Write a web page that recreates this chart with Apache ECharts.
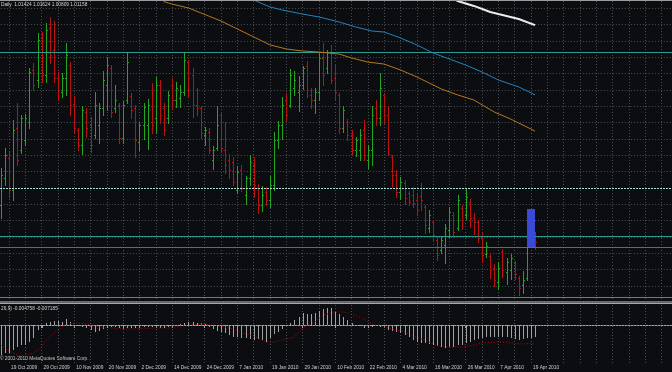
<!DOCTYPE html>
<html><head><meta charset="utf-8">
<script src="https://cdn.jsdelivr.net/npm/echarts@6/dist/echarts.min.js"></script>
<style>html,body{margin:0;padding:0;background:#0b0d10;}#c{width:672px;height:372px;}</style>
</head><body><div id="c"></div>
<script>
// ---- categories (trading days) ----
const dates = [
'15 Oct 2009','16 Oct 2009','19 Oct 2009','20 Oct 2009','21 Oct 2009','22 Oct 2009','23 Oct 2009','26 Oct 2009','27 Oct 2009','28 Oct 2009','29 Oct 2009','30 Oct 2009',
'2 Nov 2009','3 Nov 2009','4 Nov 2009','5 Nov 2009','6 Nov 2009','9 Nov 2009','10 Nov 2009','11 Nov 2009','12 Nov 2009','13 Nov 2009','16 Nov 2009','17 Nov 2009','18 Nov 2009','19 Nov 2009','20 Nov 2009','23 Nov 2009','24 Nov 2009','25 Nov 2009','26 Nov 2009','27 Nov 2009','30 Nov 2009',
'1 Dec 2009','2 Dec 2009','3 Dec 2009','4 Dec 2009','7 Dec 2009','8 Dec 2009','9 Dec 2009','10 Dec 2009','11 Dec 2009','14 Dec 2009','15 Dec 2009','16 Dec 2009','17 Dec 2009','18 Dec 2009','21 Dec 2009','22 Dec 2009','23 Dec 2009','24 Dec 2009','28 Dec 2009','29 Dec 2009','30 Dec 2009','31 Dec 2009',
'4 Jan 2010','5 Jan 2010','6 Jan 2010','7 Jan 2010','8 Jan 2010','11 Jan 2010','12 Jan 2010','13 Jan 2010','14 Jan 2010','15 Jan 2010','18 Jan 2010','19 Jan 2010','20 Jan 2010','21 Jan 2010','22 Jan 2010','25 Jan 2010','26 Jan 2010','27 Jan 2010','28 Jan 2010','29 Jan 2010',
'1 Feb 2010','2 Feb 2010','3 Feb 2010','4 Feb 2010','5 Feb 2010','8 Feb 2010','9 Feb 2010','10 Feb 2010','11 Feb 2010','12 Feb 2010','15 Feb 2010','16 Feb 2010','17 Feb 2010','18 Feb 2010','19 Feb 2010','22 Feb 2010','23 Feb 2010','24 Feb 2010','25 Feb 2010','26 Feb 2010',
'1 Mar 2010','2 Mar 2010','3 Mar 2010','4 Mar 2010','5 Mar 2010','8 Mar 2010','9 Mar 2010','10 Mar 2010','11 Mar 2010','12 Mar 2010','15 Mar 2010','16 Mar 2010','17 Mar 2010','18 Mar 2010','19 Mar 2010','22 Mar 2010','23 Mar 2010','24 Mar 2010','25 Mar 2010','26 Mar 2010','29 Mar 2010','30 Mar 2010','31 Mar 2010',
'1 Apr 2010','2 Apr 2010','5 Apr 2010','6 Apr 2010','7 Apr 2010','8 Apr 2010','9 Apr 2010','12 Apr 2010','13 Apr 2010','14 Apr 2010','15 Apr 2010','16 Apr 2010','19 Apr 2010','20 Apr 2010'];
const futureSlots = 34;

// ---- OHLC ----
const opens = [1.0317,1.0449,1.0547,1.0390,1.0694,1.0586,1.0635,1.0723,1.0978,1.0929,1.1135,1.0954,1.1184,1.1076,1.0939,1.0870,1.0939,1.1003,1.0811,1.0684,
1.0611,1.0772,1.0709,1.0660,1.0709,1.0792,1.0905,1.0988,1.0792,1.0807,1.0645,1.0831,1.0851,1.0792,1.0625,1.0709,1.0709,1.0880,1.0743,1.0905,
1.0792,1.0743,1.0905,1.0831,1.0841,1.0870,1.1017,1.0954,1.0807,1.0792,1.0660,1.0674,1.0537,1.0596,1.0758,1.0586,1.0537,1.0527,1.0390,1.0488,
1.0366,1.0449,1.0513,1.0400,1.0317,1.0380,1.0341,1.0415,1.0635,1.0709,1.0831,1.0807,1.0890,1.0870,1.0905,1.0998,1.0856,1.0831,1.0870,1.1037,
1.0988,1.1066,1.0939,1.0856,1.0694,1.0723,1.0660,1.0586,1.0586,1.0684,1.0537,1.0586,1.0792,1.0743,1.0856,1.0758,1.0552,1.0464,1.0380,1.0424,
1.0375,1.0366,1.0341,1.0361,1.0307,1.0204,1.0233,1.0145,1.0096,1.0121,1.0194,1.0268,1.0204,1.0302,1.0268,1.0331,1.0253,1.0233,1.0155,1.0076,
1.0067,1.0008,0.9939,1.0086,0.9988,0.9998,1.0032,0.9959,0.9925,0.9959,1.0165,1.0165];
const highs = [1.0498,1.0596,1.0576,1.0733,1.0816,1.0758,1.0762,1.0988,1.1012,1.1159,1.1164,1.1208,1.1238,1.1218,1.0968,1.0963,1.1110,1.1017,1.0851,1.0694,
1.0802,1.0792,1.0748,1.0870,1.0816,1.0973,1.1042,1.1003,1.0905,1.0816,1.0826,1.1066,1.0865,1.0807,1.0723,1.0816,1.0836,1.0914,1.0944,1.0929,
1.0816,1.0875,1.0939,1.0919,1.0905,1.1061,1.1027,1.0988,1.0890,1.0802,1.0699,1.0694,1.0606,1.0802,1.0772,1.0723,1.0566,1.0552,1.0508,1.0513,
1.0459,1.0562,1.0552,1.0419,1.0410,1.0405,1.0459,1.0674,1.0728,1.0846,1.0865,1.0983,1.0973,1.0949,1.0998,1.1022,1.0890,1.0890,1.1066,1.1110,
1.1076,1.1101,1.1003,1.0865,1.0802,1.0738,1.0684,1.0650,1.0689,1.0733,1.0611,1.0802,1.0831,1.0963,1.0865,1.0802,1.0562,1.0488,1.0454,1.0439,
1.0385,1.0405,1.0375,1.0424,1.0317,1.0292,1.0243,1.0160,1.0160,1.0223,1.0307,1.0282,1.0366,1.0317,1.0400,1.0346,1.0277,1.0243,1.0184,1.0135,
1.0076,1.0027,1.0037,1.0101,1.0057,1.0076,1.0042,0.9969,0.9993,1.0165,1.0204,1.0184];
const lows = [1.0253,1.0415,1.0356,1.0341,1.0513,1.0571,1.0611,1.0694,1.0880,1.0895,1.0919,1.0919,1.1012,1.0919,1.0831,1.0846,1.0856,1.0758,1.0669,1.0586,
1.0566,1.0650,1.0576,1.0645,1.0620,1.0758,1.0782,1.0748,1.0772,1.0620,1.0620,1.0816,1.0743,1.0552,1.0586,1.0640,1.0591,1.0669,1.0669,1.0718,
1.0660,1.0718,1.0792,1.0797,1.0797,1.0856,1.0846,1.0748,1.0758,1.0645,1.0611,1.0571,1.0493,1.0586,1.0576,1.0473,1.0449,1.0415,1.0375,1.0385,
1.0321,1.0415,1.0356,1.0277,1.0287,1.0317,1.0307,1.0390,1.0596,1.0640,1.0733,1.0797,1.0856,1.0777,1.0885,1.0846,1.0792,1.0767,1.0831,1.0905,
1.0963,1.0914,1.0831,1.0669,1.0674,1.0635,1.0562,1.0557,1.0537,1.0537,1.0498,1.0513,1.0709,1.0709,1.0718,1.0562,1.0405,1.0356,1.0346,1.0321,
1.0317,1.0307,1.0268,1.0292,1.0179,1.0184,1.0145,1.0047,1.0081,1.0032,1.0160,1.0160,1.0194,1.0199,1.0248,1.0209,1.0174,1.0135,1.0037,1.0062,
0.9959,0.9920,0.9905,0.9964,0.9929,0.9954,0.9954,0.9876,0.9885,0.9949,1.0121,1.0101];
const closes = [1.0464,1.0562,1.0390,1.0684,1.0537,1.0743,1.0743,1.0968,1.0905,1.1125,1.0954,1.1174,1.1052,1.0939,1.0880,1.0939,1.1052,1.0807,1.0694,1.0611,
1.0782,1.0694,1.0611,1.0807,1.0792,1.0929,1.1003,1.0772,1.0831,1.0645,1.0807,1.1017,1.0782,1.0635,1.0709,1.0797,1.0807,1.0709,1.0905,1.0758,
1.0684,1.0856,1.0831,1.0890,1.0870,1.1027,1.0939,1.0807,1.0792,1.0669,1.0684,1.0586,1.0586,1.0709,1.0596,1.0513,1.0488,1.0429,1.0478,1.0400,
1.0449,1.0527,1.0415,1.0317,1.0366,1.0341,1.0415,1.0635,1.0709,1.0807,1.0758,1.0954,1.0929,1.0905,1.0988,1.0880,1.0831,1.0870,1.1037,1.0954,
1.1066,1.0929,1.0870,1.0694,1.0782,1.0660,1.0586,1.0635,1.0660,1.0562,1.0586,1.0758,1.0743,1.0890,1.0758,1.0565,1.0464,1.0380,1.0429,1.0351,
1.0331,1.0326,1.0292,1.0341,1.0219,1.0268,1.0170,1.0072,1.0145,1.0204,1.0282,1.0184,1.0341,1.0243,1.0356,1.0253,1.0233,1.0155,1.0072,1.0116,
0.9998,0.9949,1.0008,0.9998,1.0037,1.0057,0.9978,0.9910,0.9949,1.0145,1.0145,1.0135];

// ---- moving averages: [bar index, value] ----
const maOrange = [[39,1.1335],[40,1.1313],[42,1.1301],[46,1.1282],[54,1.1218],[58,1.1179],[62,1.1140],[66,1.1101],[70,1.1081],[74,1.1071],[78,1.1066],[83,1.1056],[86,1.1037],[90,1.1017],[94,1.1007],[98,1.0978],[102,1.0944],[106,1.0905],[108,1.0885],[112,1.0856],[116,1.0831],[121,1.0772],[125,1.0738],[127,1.0718],[131,1.0679]];
const maBlue = [[61,1.1336],[62,1.1321],[66,1.1287],[69,1.1272],[74,1.1252],[78,1.1238],[83,1.1213],[87,1.1189],[91,1.1169],[94,1.1164],[98,1.1135],[102,1.1101],[106,1.1061],[110,1.1032],[114,1.1002],[118,1.0968],[122,1.0929],[127,1.0895],[131,1.0856]];
const maWhite = [[111,1.1335],[112,1.1316],[116,1.1292],[120,1.1262],[122,1.1252],[125,1.1238],[127,1.1228],[131,1.1198]];

// ---- horizontal levels and box ----
const levels = [1.1066, 1.0400, 1.0166, 1.0112, 0.9867];
const box = [[129, 131, 1.0297, 1.0111]];

// ---- MACD (12,26,9) ----
const macdMain = [-0.0120,-0.0113,-0.0111,-0.0100,-0.0087,-0.0080,-0.0080,-0.0067,-0.0053,-0.0020,-0.0013,0.0007,0.0013,0.0017,0.0017,0.0013,0.0023,0.0013,-0.0004,-0.0002,
-0.0009,-0.0013,-0.0020,-0.0027,-0.0023,-0.0017,-0.0013,-0.0007,-0.0007,-0.0013,-0.0017,-0.0013,-0.0013,-0.0013,-0.0013,-0.0009,-0.0007,-0.0009,-0.0013,-0.0013,
-0.0013,-0.0007,-0.0007,-0.0004,0.0004,0.0009,0.0013,0.0013,0.0009,0.0007,0.0004,-0.0009,-0.0017,-0.0023,-0.0027,-0.0033,-0.0040,-0.0047,-0.0049,-0.0053,
-0.0053,-0.0057,-0.0060,-0.0057,-0.0060,-0.0067,-0.0053,-0.0036,-0.0027,-0.0017,0.0002,0.0009,0.0020,0.0033,0.0047,0.0044,0.0044,0.0047,0.0057,0.0063,
0.0067,0.0067,0.0053,0.0044,0.0033,0.0020,0.0009,-0.0002,-0.0004,-0.0013,-0.0009,-0.0007,-0.0004,-0.0009,-0.0013,-0.0020,-0.0023,-0.0027,-0.0033,-0.0040,
-0.0049,-0.0060,-0.0067,-0.0071,-0.0073,-0.0076,-0.0080,-0.0084,-0.0089,-0.0093,-0.0087,-0.0087,-0.0080,-0.0080,-0.0071,-0.0067,-0.0060,-0.0057,-0.0053,-0.0049,
-0.0047,-0.0049,-0.0049,-0.0047,-0.0049,-0.0053,-0.0057,-0.0060,-0.0057,-0.0052,-0.0050,-0.0048];
const macdSignal = [[0,-0.0080],[2,-0.0104],[3,-0.0112],[5,-0.0124],[6,-0.0120],[8,-0.0112],[10,-0.0088],[11,-0.0060],[13,-0.0032],[15,-0.0008],[16,0.0004],[18,0.0008],[19,0.0008],[21,0.0004],[23,-0.0004],[24,-0.0008],[27,-0.0012],[29,-0.0016],[32,-0.0016],[37,-0.0012],[41,-0.0012],[43,-0.0008],[46,0],[49,0.0004],[52,0],[55,-0.0008],[57,-0.0016],[59,-0.0032],[62,-0.0044],[64,-0.0060],[66,-0.0072],[69,-0.0060],[72,-0.0048],[74,-0.0012],[77,0.0012],[79,0.0040],[82,0.0052],[84,0.0052],[86,0.0044],[89,0.0024],[91,0.0004],[94,-0.0008],[96,-0.0016],[99,-0.0028],[101,-0.0044],[104,-0.0060],[106,-0.0076],[108,-0.0088],[111,-0.0088],[113,-0.0088],[116,-0.0080],[118,-0.0072],[122,-0.0068],[125,-0.0072],[128,-0.0076],[131,-0.0072]];

// ---- texts ----
const headerText = 'Daily  1.01424 1.01624 1.00809 1.01158';
const macdText = '26,9) -0.004758 -0.007185';
const copyrightText = '\u00A9 2001-2010 MetaQuotes Software Corp.';

// ---------------------------------------------------------------
const cats = dates.concat(new Array(futureSlots).fill(''));
const step = 4.078;
const plotW = (cats.length - 1) * step;
const UP = '#22a622', DOWN = '#bb1111';
const levelStyles = [
  {stroke: '#2c9a8e'}, {stroke: '#a8e2df', lineDash: [2, 1]}, {stroke: '#2f998e'}, {stroke: '#56716f'}, {stroke: '#2c9a8e'}
];
const gridLine = {show: true, lineStyle: {color: '#4b5057', type: [1, 2], width: 1}};
const splitEvery4 = (i) => (i + 2) % 4 === 0;
const labelIdx = (i) => i >= 2 && i < dates.length && (i - 2) % 8 === 0;
const FONT = 'Liberation Sans';

function hLineItem(value, style) {
  return function (params, api) {
    const cs = params.coordSys;
    const y = Math.round(api.coord([0, value])[1]) + 0.5;
    return {type: 'line', shape: {x1: 0, y1: y, x2: 672, y2: y}, style: Object.assign({lineWidth: 1}, style)};
  };
}

const chart = echarts.init(document.getElementById('c'), null, {renderer: 'canvas'});
chart.setOption({
  backgroundColor: '#0b0d10',
  animation: false,
  grid: [
    {left: 0.84, top: -7.96, width: plotW, height: 310.2, outerBoundsMode: 'none', containLabel: false},
    {left: 0.84, top: 305, width: plotW, height: 58, outerBoundsMode: 'none', containLabel: false}
  ],
  xAxis: [
    {type: 'category', gridIndex: 0, data: cats, boundaryGap: false,
     axisLine: {show: false}, axisTick: {show: false}, axisLabel: {show: false},
     splitLine: Object.assign({interval: splitEvery4}, gridLine)},
    {type: 'category', gridIndex: 1, data: cats, boundaryGap: false,
     axisLine: {show: true, lineStyle: {color: '#a4a4a4', width: 1}},
     axisTick: {show: true, interval: labelIdx, length: 3, lineStyle: {color: '#a4a4a4'}},
     axisLabel: {show: true, interval: labelIdx, align: 'left', margin: 2, padding: [0, 0, 0, 2],
       color: '#cfcfcf', fontSize: 4.8, fontFamily: FONT},
     splitLine: Object.assign({interval: splitEvery4}, gridLine)}
  ],
  yAxis: [
    {type: 'value', gridIndex: 0, min: 0.984, max: 1.136, interval: 0.008,
     axisLine: {show: false}, axisTick: {show: false}, axisLabel: {show: false},
     splitLine: gridLine},
    {type: 'value', gridIndex: 1, min: -0.0152, max: 0.008,
     axisLine: {show: false}, axisTick: {show: false}, axisLabel: {show: false},
     splitLine: {show: false}}
  ],
  series: [
    {
      type: 'custom', name: 'bars', xAxisIndex: 0, yAxisIndex: 0, z: 3,
      data: opens.map((o, i) => [i, o, highs[i], lows[i], closes[i]]),
      encode: {x: 0, y: [1, 2, 3, 4]},
      renderItem: function (params, api) {
        const i = api.value(0), o = api.value(1), h = api.value(2), l = api.value(3), c = api.value(4);
        const pH = api.coord([i, h]), pL = api.coord([i, l]);
        const pO = api.coord([i, o]), pC = api.coord([i, c]);
        const x = Math.round(pH[0]) + 0.5;
        const col = c >= o ? UP : DOWN;
        const yo = Math.round(pO[1]) + 0.5, yc = Math.round(pC[1]) + 0.5;
        return {type: 'group', children: [
          {type: 'line', shape: {x1: x, y1: Math.round(pH[1]), x2: x, y2: Math.round(pL[1]) + 1}, style: {stroke: col, lineWidth: 1}},
          {type: 'line', shape: {x1: x - 1.5, y1: yo, x2: x, y2: yo}, style: {stroke: col, lineWidth: 1}},
          {type: 'line', shape: {x1: x, y1: yc, x2: x + 1.5, y2: yc}, style: {stroke: col, lineWidth: 1}}
        ]};
      }
    },
    {
      type: 'custom', name: 'levels', xAxisIndex: 0, yAxisIndex: 0, z: 4,
      data: levels.map((v, k) => [k, v]),
      encode: {y: 1},
      renderItem: function (params, api) {
        const k = api.value(0);
        return hLineItem(api.value(1), levelStyles[k])(params, api);
      }
    },
    {type: 'line', name: 'MA orange', xAxisIndex: 0, yAxisIndex: 0, data: maOrange, showSymbol: false, z: 5, clip: true,
     lineStyle: {color: '#b9771c', width: 1}},
    {type: 'line', name: 'MA blue', xAxisIndex: 0, yAxisIndex: 0, data: maBlue, showSymbol: false, z: 5, clip: true,
     lineStyle: {color: '#2184be', width: 1}},
    {type: 'line', name: 'MA white', xAxisIndex: 0, yAxisIndex: 0, data: maWhite, showSymbol: false, z: 5, clip: true,
     lineStyle: {color: '#ececec', width: 2}},
    {
      type: 'custom', name: 'box', xAxisIndex: 0, yAxisIndex: 0, z: 8, data: box,
      encode: {x: [0, 1], y: [2, 3]},
      renderItem: function (params, api) {
        const a = api.coord([api.value(0), api.value(2)]);
        const b = api.coord([api.value(1), api.value(3)]);
        return {type: 'rect', shape: {x: Math.round(a[0]), y: Math.round(a[1]), width: Math.round(b[0]) - Math.round(a[0]), height: Math.round(b[1]) - Math.round(a[1])},
          style: {fill: '#3a49d6'}};
      }
    },
    {
      type: 'custom', name: 'MACD', xAxisIndex: 1, yAxisIndex: 1, z: 3,
      data: macdMain.map((v, i) => [i, v]),
      encode: {x: 0, y: 1},
      renderItem: function (params, api) {
        const p = api.coord([api.value(0), api.value(1)]);
        const z = api.coord([api.value(0), 0]);
        const x = Math.round(p[0]) + 0.5;
        return {type: 'line', shape: {x1: x, y1: Math.round(z[1]), x2: x, y2: Math.round(p[1])}, style: {stroke: '#a2a2a2', lineWidth: 1}};
      }
    },
    {
      type: 'custom', name: 'zero', xAxisIndex: 1, yAxisIndex: 1, z: 2,
      data: [[0, 0]], encode: {y: 1},
      renderItem: function (params, api) {
        return hLineItem(0, {stroke: '#5a5f66', lineDash: [1, 2]})(params, api);
      }
    },
    {type: 'line', name: 'Signal', xAxisIndex: 1, yAxisIndex: 1, data: macdSignal, showSymbol: false, z: 4,
     lineStyle: {color: '#c40000', width: 1, type: [1, 2]}}
  ],
  graphic: [
    {type: 'rect', z: 100, shape: {x: 0, y: 0, width: 672, height: 1}, style: {fill: '#9c9c9c'}},
    {type: 'rect', z: 100, shape: {x: 0, y: 301, width: 672, height: 1}, style: {fill: '#6c6c6c'}},
    {type: 'rect', z: 100, shape: {x: 0, y: 302.5, width: 672, height: 1.5}, style: {fill: '#a8a8a8'}},
    {type: 'text', z: 100, left: 1, top: 2, style: {text: headerText, fill: '#d2d2d2', fontSize: 4.8, fontFamily: FONT}},
    {type: 'text', z: 100, left: 1, top: 306.5, style: {text: macdText, fill: '#d2d2d2', fontSize: 4.8, fontFamily: FONT}},
    {type: 'text', z: 100, left: 0, top: 356, style: {text: copyrightText, fill: '#c4c4c4', fontSize: 4.8, fontFamily: FONT}}
  ]
});
</script>
</body></html>
